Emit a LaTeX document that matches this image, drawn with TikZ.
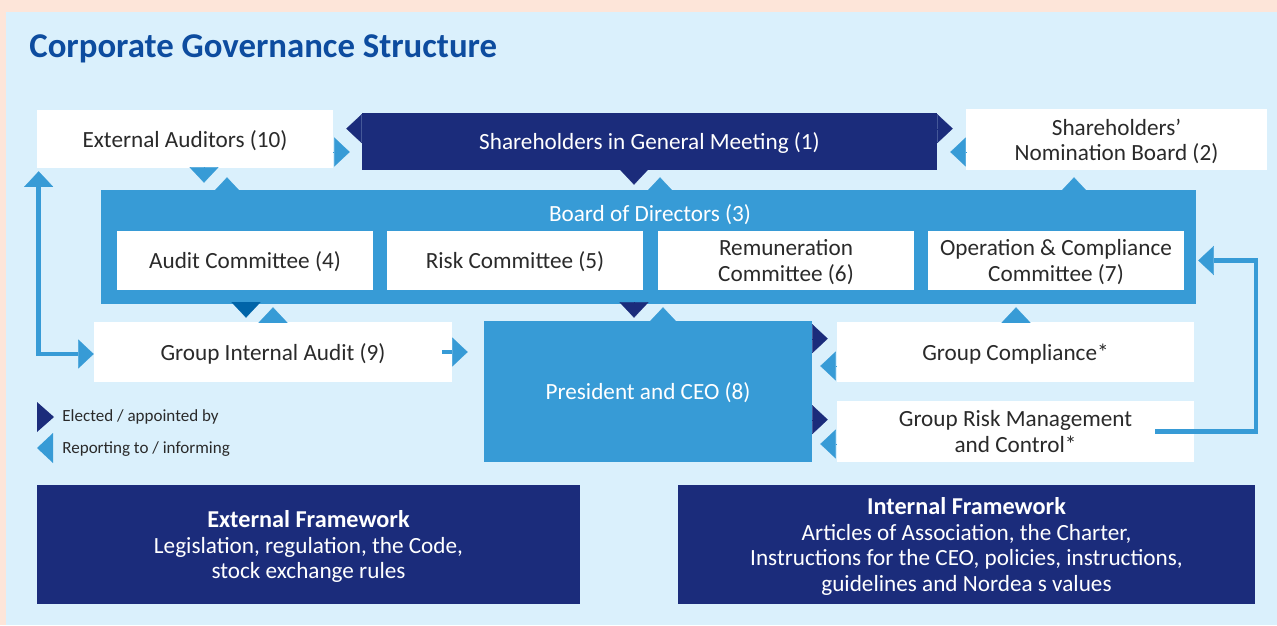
\documentclass[tikz,border=0pt]{standalone}
\usepackage{fontspec}
\setmainfont{Carlito}
\setsansfont{Carlito}
\usetikzlibrary{arrows.meta,calc}
\definecolor{govpeach}{HTML}{FDE5D9}
\definecolor{govpanel}{HTML}{DAF0FC}
\definecolor{govnavy}{HTML}{1B2C7B}
\definecolor{govblue}{HTML}{379BD6}
\definecolor{govdeep}{HTML}{0064A8}
\definecolor{govtitle}{HTML}{0D4C9F}
\definecolor{govtext}{HTML}{2A2A2A}

\begin{document}
\begin{tikzpicture}[x=0.02cm, y=-0.02cm,
    >={Triangle[length=0.31cm,width=0.58cm,line width=0.1pt]},
    txt/.style={font=\fontsize{13.2}{14.4}\selectfont, align=center, inner sep=0pt, text depth=0pt},
    whitebox/.style={txt, fill=white, text=govtext},
    navybox/.style={txt, fill=govnavy, text=white},
    bluebox/.style={txt, fill=govblue, text=white},
    committee/.style={whitebox, minimum width=5.12cm, minimum height=1.18cm},
    frame/.style={navybox, minimum width=#1, minimum height=2.38cm, font=\fontsize{13.2}{14.6}\selectfont},
    keytext/.style={anchor=base west, inner sep=0pt, text=govtext, font=\fontsize{9.7}{11}\selectfont},
    elect/.style={draw=govnavy, line width=0.1pt, ->},
    report/.style={draw=govblue, line width=0.1pt, ->},
    appoint/.style={draw=govdeep, line width=0.1pt, ->},
    repline/.style={draw=govblue, line width=2.6pt, ->}]
  % background and title
  \fill[govpeach] (0,0) rectangle (1277,625);
  \fill[govpanel] (6,12) rectangle (1277,625);
  \node[anchor=base west, inner sep=0pt, text=govtitle, font=\fontsize{19.8}{22}\selectfont\bfseries] (title) at (29,58) {Corporate Governance Structure};

  % top row
  \node[whitebox, minimum width=5.92cm, minimum height=1.16cm] (extaud) at (185,139) {External Auditors (10)};
  \node[navybox, minimum width=11.5cm, minimum height=1.14cm] (sgm) at (649.5,141.5) {Shareholders in General Meeting (1)};
  \node[whitebox, minimum width=6.02cm, minimum height=1.22cm] (nomb) at (1116.5,139.5) {Shareholders’\\Nomination Board (2)};

  % board and its committees
  \node[bluebox, minimum width=21.9cm, minimum height=2.28cm] (board) at (648.5,247) {};
  \node[txt, text=white] (boardttl) at (650,213) {Board of Directors (3)};
  \node[committee] (acom) at (245,260.5) {Audit Committee (4)};
  \node[committee] (rcom) at (515,260.5) {Risk Committee (5)};
  \node[committee] (remcom) at (786,260.5) {Remuneration\\Committee (6)};
  \node[committee] (opcom) at (1056,260.5) {Operation \& Compliance\\Committee (7)};

  % management level
  \node[whitebox, minimum width=7.16cm, minimum height=1.2cm] (gia) at (273,352) {Group Internal Audit (9)};
  \node[bluebox, minimum width=6.56cm, minimum height=2.82cm] (ceo) at (648,391.5) {President and CEO (8)};
  \node[whitebox, minimum width=7.14cm, minimum height=1.2cm] (gcomp) at (1015.5,352) {Group Compliance*};
  \node[whitebox, minimum width=7.14cm, minimum height=1.22cm] (grisk) at (1015.5,431.5) {Group Risk Management\\and Control*};

  % frameworks
  \node[frame=10.86cm] (extfw) at (308.5,544.5) {{\fontsize{13.8}{14.6}\selectfont\bfseries External Framework}\\Legislation, regulation, the Code,\\stock exchange rules};
  \node[frame=11.54cm] (intfw) at (966.5,544.5) {{\fontsize{13.8}{14.6}\selectfont\bfseries Internal Framework}\\Articles of Association, the Charter,\\Instructions for the CEO, policies, instructions,\\guidelines and Nordea s values};

  % legend
  \fill[govnavy] (37,402) -- (54,417) -- (37,432) -- cycle;
  \fill[govblue] (53,433) -- (37,448) -- (53,463) -- cycle;
  \node[keytext] (keyelect) at (62,421) {Elected / appointed by};
  \node[keytext] (keyreport) at (62,453) {Reporting to / informing};

  % elected / appointed by
  \draw[elect, shorten >=0.26cm] ([yshift=-0.32cm]sgm.north west) -- ([yshift=-0.32cm]sgm.north west -| extaud.east);
  \draw[elect, shorten >=0.26cm] ([yshift=-0.32cm]sgm.north east) -- ([yshift=-0.32cm]sgm.north east -| nomb.west);
  \draw[elect, shorten >=0.1cm] (sgm.south -| 634,0) -- (board.north -| 634,0);
  \draw[appoint, shorten >=0.08cm] (board.south -| 246,0) -- (gia.north -| 246,0);
  \draw[elect, shorten >=0.06cm] (board.south -| 634,0) -- (ceo.north -| 634,0);
  \draw[elect, shorten >=0.18cm] ([yshift=-0.36cm]ceo.north east) -- ([yshift=-0.36cm]ceo.north east -| gcomp.west);
  \draw[elect, shorten >=0.18cm] ([yshift=-1.98cm]ceo.north east) -- ([yshift=-1.98cm]ceo.north east -| grisk.west);

  % reporting to / informing
  \draw[report, shorten >=0.24cm] ([yshift=-0.26cm]extaud.east) -- ([yshift=-0.26cm]extaud.east -| sgm.west);
  \draw[report, shorten >=0.26cm] ([yshift=-0.25cm]nomb.west) -- ([yshift=-0.25cm]nomb.west -| sgm.east);
  \draw[report, shorten >=0.14cm] (extaud.south -| 204,0) -- (board.north -| 204,0);
  \draw[report, shorten >=0.18cm] (board.north -| 227,0) -- (extaud.south -| 227,0);
  \draw[report, shorten >=0.14cm] (board.north -| 660,0) -- (sgm.south -| 660,0);
  \draw[report, shorten >=0.14cm] (board.north -| 1074,0) -- (nomb.south -| 1074,0);
  \draw[report, shorten >=0.06cm] (gia.north -| 273,0) -- (board.south -| 273,0);
  \draw[report, shorten >=0.06cm] (ceo.north -| 663,0) -- (board.south -| 663,0);
  \draw[report, shorten >=0.06cm] (gcomp.north -| 1016,0) -- (board.south -| 1016,0);
  \draw[report, shorten >=0.16cm] ([yshift=-0.28cm]gcomp.west) -- ([yshift=-0.28cm]gcomp.west -| ceo.east);
  \draw[report, shorten >=0.16cm] ([yshift=-0.25cm]grisk.west) -- ([yshift=-0.25cm]grisk.west -| ceo.east);
  \draw[repline, shorten >=0.32cm] ([xshift=-0.2cm]gia.east) -- (gia.east -| ceo.west);
  \draw[repline, <->, shorten >=0.06cm] ([yshift=-0.04cm]gia.west) -| ([xshift=0.04cm]extaud.south west);
  \coordinate (rbend) at (1256,0);
  \draw[repline, shorten >=0.04cm] ([xshift=-0.78cm]grisk.east) -| (rbend |- opcom.east) -- (board.east |- opcom.east);
\end{tikzpicture}
\end{document}
